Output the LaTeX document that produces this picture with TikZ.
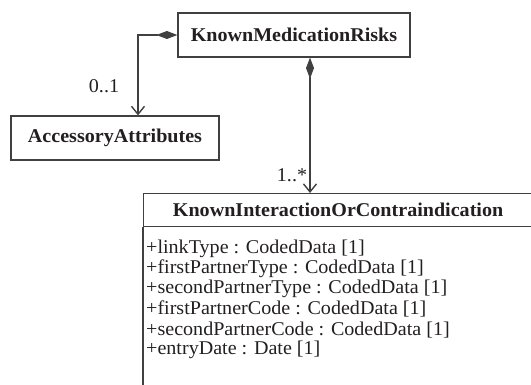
\documentclass[tikz,border=0pt]{standalone}
\usepackage{fontspec}
\setmainfont{Liberation Serif}[FakeStretch=1.03]
\usetikzlibrary{arrows.meta}
\definecolor{linec}{HTML}{404040}
\definecolor{textc}{HTML}{231F20}
\begin{document}
\begin{tikzpicture}[x=1pt,y=-1pt,
  umlbox/.style={draw=linec, line width=1.2pt, fill=white, inner sep=0pt, text=textc,
    font=\fontsize{19.5}{21}\selectfont\bfseries},
  assoc/.style={draw=linec, line width=1.4pt,
    {Diamond[length=21pt,width=8pt]}-{Straight Barb[length=8pt,width=13pt]}},
  mult/.style={text=textc, font=\fontsize{19.5}{21}\selectfont, inner sep=0pt},
  attr/.style={text=textc, font=\fontsize{19.5}{21}\selectfont, inner sep=0pt, anchor=base west}]
\useasboundingbox (0,0) rectangle (531,385);
\node[umlbox, minimum width=232pt, minimum height=44pt] (kmr) at (294,35) {KnownMedicationRisks};
\node[umlbox, minimum width=208pt, minimum height=44pt] (acc) at (115,138) {AccessoryAttributes};
\begin{scope}
\clip (0,0) rectangle (531,385);
\node[umlbox, minimum width=389pt, minimum height=33pt, anchor=north west] (kic) at (143,193) {KnownInteractionOrContraindication};
\draw[draw=linec, line width=1.2pt] (kic.south west) -- ++(0,220);
\end{scope}
\draw[assoc] (kmr.west) -| ([xshift=23pt]acc.north);
\draw[assoc] ([xshift=16pt]kmr.south) -- ([xshift=16pt]kmr.south |- kic.north);
\node[mult] (m1) at (104,86) {0..1};
\node[mult] (m2) at (292,175) {1..*};
\node[attr] (a1) at (146,254) {+linkType : CodedData [1]};
\node[attr] (a2) at (146,274) {+firstPartnerType : CodedData [1]};
\node[attr] (a3) at (146,294) {+secondPartnerType : CodedData [1]};
\node[attr] (a4) at (146,315) {+firstPartnerCode : CodedData [1]};
\node[attr] (a5) at (146,335) {+secondPartnerCode : CodedData [1]};
\node[attr] (a6) at (146,355) {+entryDate : Date [1]};
\end{tikzpicture}
\end{document}
